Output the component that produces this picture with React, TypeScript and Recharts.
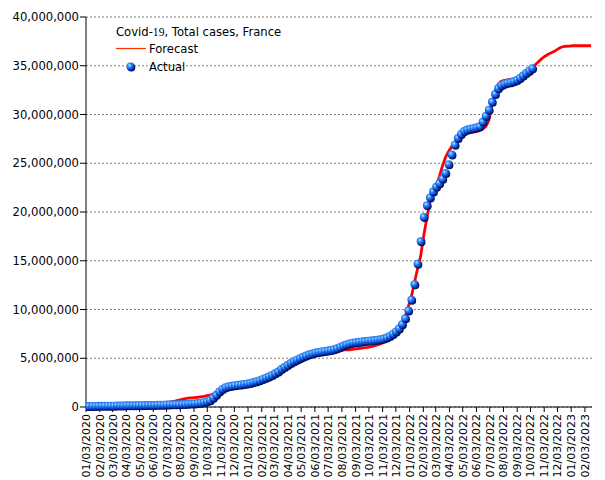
import React from 'react';
import { ComposedChart, Line, XAxis, YAxis, CartesianGrid } from 'recharts';

const FONT = '"DejaVu Sans", Verdana, sans-serif';

// Weekly series starting 01/03/2020 (mm/dd/yyyy), values in millions of cases
const startDate = '01/03/2020';

const actualMillions = [
  0.10, 0.10, 0.11, 0.11, 0.12, 0.12, 0.13, 0.13, 0.14, 0.14,
  0.15, 0.15, 0.16, 0.17, 0.17, 0.18, 0.18, 0.19, 0.19, 0.20,
  0.20, 0.21, 0.21, 0.22, 0.23, 0.24, 0.25, 0.26, 0.27, 0.28,
  0.29, 0.30, 0.31, 0.33, 0.35, 0.37, 0.40, 0.44, 0.50, 0.58,
  0.70, 0.95, 1.25, 1.60, 1.85, 2.02, 2.12, 2.18, 2.23, 2.27,
  2.30, 2.36, 2.42, 2.47, 2.56, 2.65, 2.75, 2.88, 3.00, 3.13,
  3.28, 3.45, 3.65, 3.90, 4.10, 4.30, 4.52, 4.70, 4.85, 5.00,
  5.15, 5.28, 5.40, 5.50, 5.58, 5.65, 5.70, 5.75, 5.80, 5.85,
  5.92, 6.02, 6.15, 6.30, 6.42, 6.52, 6.60, 6.65, 6.70, 6.73,
  6.76, 6.80, 6.83, 6.86, 6.90, 6.95, 7.02, 7.12, 7.28, 7.50,
  7.75, 8.05, 8.50, 9.10, 9.90, 11.0, 12.6, 14.7, 17.0, 19.5,
  20.7, 21.5, 22.1, 22.6, 22.95, 23.4, 24.0, 24.9, 25.9, 26.9,
  27.6, 28.0, 28.3, 28.45, 28.55, 28.62, 28.68, 28.8, 29.25, 29.85,
  30.5, 31.3, 32.1, 32.7, 33.0, 33.15, 33.25, 33.3, 33.4, 33.55,
  33.75, 34.0, 34.25, 34.5, 34.75,
];

const forecastMillions = [
  0.05, 0.05, 0.05, 0.05, 0.05, 0.05, 0.05, 0.05, 0.05, 0.05,
  0.05, 0.05, 0.05, 0.05, 0.05, 0.25, 0.25, 0.25, 0.25, 0.25,
  0.25, 0.25, 0.25, 0.25, 0.25, 0.25,
  0.45, 0.50, 0.55, 0.62, 0.70, 0.78, 0.85, 0.90, 0.94, 0.97,
  1.00, 1.05, 1.10, 1.16, 1.23, 1.32, 1.42, 1.52, 1.62, 1.72,
  1.82, 1.90, 1.97, 2.02, 2.07, 2.18, 2.30, 2.41, 2.52, 2.64,
  2.76, 2.85, 2.95, 3.05, 3.25, 3.45, 3.65, 3.85, 4.05, 4.27,
  4.48, 4.65, 4.80, 4.95, 5.05, 5.15, 5.27, 5.37, 5.47, 5.56,
  5.62, 5.68, 5.72, 5.75, 5.78, 5.82, 5.85, 5.86, 5.86, 5.86,
  5.90, 5.95, 6.00, 6.05, 6.08, 6.12, 6.18, 6.26, 6.36, 6.47,
  6.62, 6.80, 7.00, 7.25, 7.55, 7.95, 8.50, 9.30, 10.3, 11.3,
  12.8, 14.2, 15.5, 17.6, 19.4, 21.0, 21.9, 22.6, 23.6, 24.7,
  25.6, 26.2, 26.7, 27.1, 27.5, 27.8, 27.95, 28.05, 28.15, 28.2,
  28.25, 28.35, 28.5, 28.75, 29.4, 31.0, 32.3, 33.1, 33.4, 33.5,
  33.55, 33.6, 33.65, 33.7, 33.85, 34.0, 34.15, 34.4, 34.75, 35.1,
  35.4, 35.7, 35.95, 36.15, 36.3, 36.45, 36.65, 36.85, 36.97, 37.0,
  37.02, 37.05, 37.05, 37.05, 37.05, 37.05, 37.05, 37.05,
];

const tickLabels = [
  '01/03/2020', '02/03/2020', '03/03/2020', '04/03/2020', '05/03/2020', '06/03/2020',
  '07/03/2020', '08/03/2020', '09/03/2020', '10/03/2020', '11/03/2020', '12/03/2020',
  '01/03/2021', '02/03/2021', '03/03/2021', '04/03/2021', '05/03/2021', '06/03/2021',
  '07/03/2021', '08/03/2021', '09/03/2021', '10/03/2021', '11/03/2021', '12/03/2021',
  '01/03/2022', '02/03/2022', '03/03/2022', '04/03/2022', '05/03/2022', '06/03/2022',
  '07/03/2022', '08/03/2022', '09/03/2022', '10/03/2022', '11/03/2022', '12/03/2022',
  '01/03/2023', '02/03/2023',
];

const yTicks = [0, 5000000, 10000000, 15000000, 20000000, 25000000, 30000000, 35000000, 40000000];

const parseDate = (s: string) => {
  const [m, d, y] = s.split('/').map(Number);
  return Date.UTC(y, m - 1, d);
};
const START = parseDate(startDate);
const toDay = (s: string) => Math.round((parseDate(s) - START) / 86400000);
const tickDays = tickLabels.map(toDay);
const labelByDay: Record<number, string> = {};
tickLabels.forEach((l, i) => (labelByDay[tickDays[i]] = l));

const data = forecastMillions.map((f, i) => ({
  day: i * 7,
  forecast: f * 1e6,
  actual: i < actualMillions.length ? actualMillions[i] * 1e6 : null,
}));

const XTick = (props: any) => {
  const { x, y, payload } = props;
  return (
    <g transform={`translate(${x},${y})`}>
      <text
        transform="rotate(-90)"
        x={0}
        y={0}
        dy="0.36em"
        textAnchor="end"
        fontSize={11}
        fontFamily={FONT}
        fill="#000"
      >
        {labelByDay[payload.value] ?? ''}
      </text>
    </g>
  );
};

const SphereDot = (props: any) => {
  const { cx, cy, index, value } = props;
  if (cx == null || cy == null || value == null) return <g key={`e${index}`} />;
  return (
    <g key={`d${index}`}>
      <circle cx={cx + 0.8} cy={cy + 1} r={4} fill="#00125e" />
      <circle cx={cx} cy={cy} r={4} fill="url(#sphereGrad)" />
    </g>
  );
};

export default function App() {
  return (
    <div style={{ position: 'absolute', left: 0, top: 0, width: 605, height: 480, background: '#fff' }}>
      <ComposedChart
        width={605}
        height={480}
        data={data}
        margin={{ top: 17, right: 13, left: 0, bottom: 0 }}
      >
        <CartesianGrid vertical={false} stroke="#808080" strokeDasharray="2 2" />
        <XAxis
          type="number"
          dataKey="day"
          domain={[0, 1143]}
          ticks={tickDays}
          interval={0}
          tick={<XTick />}
          tickSize={5}
          tickMargin={2}
          height={73}
          stroke="#000"
          allowDataOverflow
        />
        <YAxis
          type="number"
          domain={[0, 40000000]}
          ticks={yTicks}
          interval={0}
          width={86}
          tickSize={6}
          tickMargin={1}
          stroke="#000"
          tick={{ fontSize: 11.6, fontFamily: FONT, fill: '#000' }}
          tickFormatter={(v: number) => v.toLocaleString('en-US')}
        />
        <Line
          dataKey="actual"
          stroke="none"
          dot={SphereDot}
          activeDot={false}
          isAnimationActive={false}
          connectNulls={false}
        />
        <Line
          dataKey="forecast"
          stroke="#ff0000"
          strokeWidth={2.8}
          dot={false}
          activeDot={false}
          type="linear"
          isAnimationActive={false}
        />
      </ComposedChart>
      <svg
        width={605}
        height={480}
        style={{ position: 'absolute', left: 0, top: 0, pointerEvents: 'none' }}
      >
        <defs>
          <radialGradient id="sphereGrad" cx="38%" cy="35%" r="70%">
            <stop offset="0%" stopColor="#b8ecff" />
            <stop offset="30%" stopColor="#3c96ff" />
            <stop offset="75%" stopColor="#0a44cc" />
            <stop offset="100%" stopColor="#06207e" />
          </radialGradient>
        </defs>
        <text x={116} y={36} fontSize={11.6} fontFamily={FONT} fill="#000">
          Covid-<tspan fontFamily='"Liberation Serif", serif'>19</tspan>, Total cases, France
        </text>
        <line x1={116} y1={48.5} x2={146} y2={48.5} stroke="#ff3300" strokeWidth={1.2} />
        <text x={149} y={52.5} fontSize={11.6} fontFamily={FONT} fill="#000">
          Forecast
        </text>
        <circle cx={131.3} cy={67.5} r={4} fill="#00125e" />
        <circle cx={130.5} cy={66.5} r={4} fill="url(#sphereGrad)" />
        <text x={149} y={71} fontSize={11.6} fontFamily={FONT} fill="#000">
          Actual
        </text>
      </svg>
    </div>
  );
}
